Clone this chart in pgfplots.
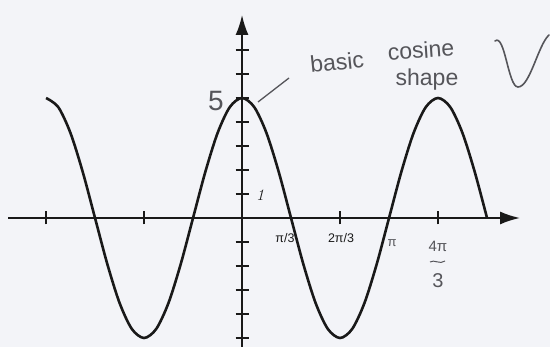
\documentclass[border=0pt]{standalone}
\usepackage{pgfplots}
\pgfplotsset{compat=1.18}
\usepackage{fontspec}
\setmainfont{Liberation Sans}
\newfontfamily\serif{Latin Modern Roman}
\usetikzlibrary{arrows.meta}
\definecolor{paper}{RGB}{243,244,248}
\definecolor{pencil}{RGB}{85,85,90}
\definecolor{ink}{RGB}{25,25,25}

% y = 5 cos(3x/2); x is measured in units of pi/3
\pgfplotstableread{
t y
-4 5
-3.75 4.6194
-3.5 3.5355
-3.25 1.9134
-3 0
-2.75 -1.9134
-2.5 -3.5355
-2.25 -4.6194
-2 -5
-1.75 -4.6194
-1.5 -3.5355
-1.25 -1.9134
-1 0
-0.75 1.9134
-0.5 3.5355
-0.25 4.6194
0 5
0.25 4.6194
0.5 3.5355
0.75 1.9134
1 0
1.25 -1.9134
1.5 -3.5355
1.75 -4.6194
2 -5
2.25 -4.6194
2.5 -3.5355
2.75 -1.9134
3 0
3.25 1.9134
3.5 3.5355
3.75 4.6194
4 5
4.25 4.6194
4.5 3.5355
4.75 1.9134
5 0
}\cosdata

\begin{document}
\begin{tikzpicture}
% paper
\begin{scope}[x=1pt,y=-1pt,yshift=347pt]
  \fill[paper] (0,0) rectangle (550,347);
\end{scope}

\begin{axis}[
  at={(8pt,0pt)}, anchor=south west,
  scale only axis, width=512pt, height=332pt,
  xmin=-4.776, xmax=5.673, ymin=-5.375, ymax=8.458,
  axis lines=middle,
  axis line style={ink, line width=1.8pt, -{Latex[length=20pt,width=13pt]}},
  xtick={-4,-2,2,4}, ytick={-5,-4,-3,-2,-1,1,2,3,4,5,6,7},
  xticklabels={{},{},{},{}},
  yticklabels={{},{},{},{},{},{},{},{},{},{},{},{}},
  tick align=center,
  major tick length=13pt,
  tick style={ink, line width=1.5pt},
  clip=false,
]
\addplot[ink, line width=2.6pt, smooth] table[x=t, y=y] {\cosdata};
\end{axis}

\begin{scope}[x=1pt,y=-1pt,yshift=347pt]
  % printed labels
  \node[ink] at (260,195) {\serif\itshape\fontsize{16}{16}\selectfont 1};
  \node[ink] at (285,238) {\fontsize{12.5}{12.5}\selectfont π/3};
  \node[ink] at (341,238) {\fontsize{12.5}{12.5}\selectfont 2π/3};
  % handwritten notes
  \node[pencil] at (216,101) {\fontsize{28}{28}\selectfont 5};
  \node[pencil] at (392,243) {\fontsize{13}{13}\selectfont π};
  \node[pencil] at (438,246) {\fontsize{15}{15}\selectfont 4π};
  \draw[pencil, line width=1pt] (430,262) .. controls (434,259) and (440,265) .. (445,261);
  \node[pencil] at (438,281) {\fontsize{20}{20}\selectfont 3};
  \node[pencil, rotate=6] at (337,62) {\fontsize{23}{23}\selectfont basic};
  \node[pencil, rotate=4] at (421,50) {\fontsize{23}{23}\selectfont cosine};
  \node[pencil] at (427,80) {\fontsize{23}{23}\selectfont shape};
  \draw[pencil, line width=1.3pt] (258,102) -- (289,78);
  \draw[pencil, line width=1.6pt, line cap=round]
    (495,41) .. controls (505,33) and (508,87) .. (518,87)
    .. controls (530,87) and (538,45) .. (549,35);
\end{scope}

\pgfresetboundingbox
\path (0,0) rectangle (550pt,347pt);
\end{tikzpicture}
\end{document}
